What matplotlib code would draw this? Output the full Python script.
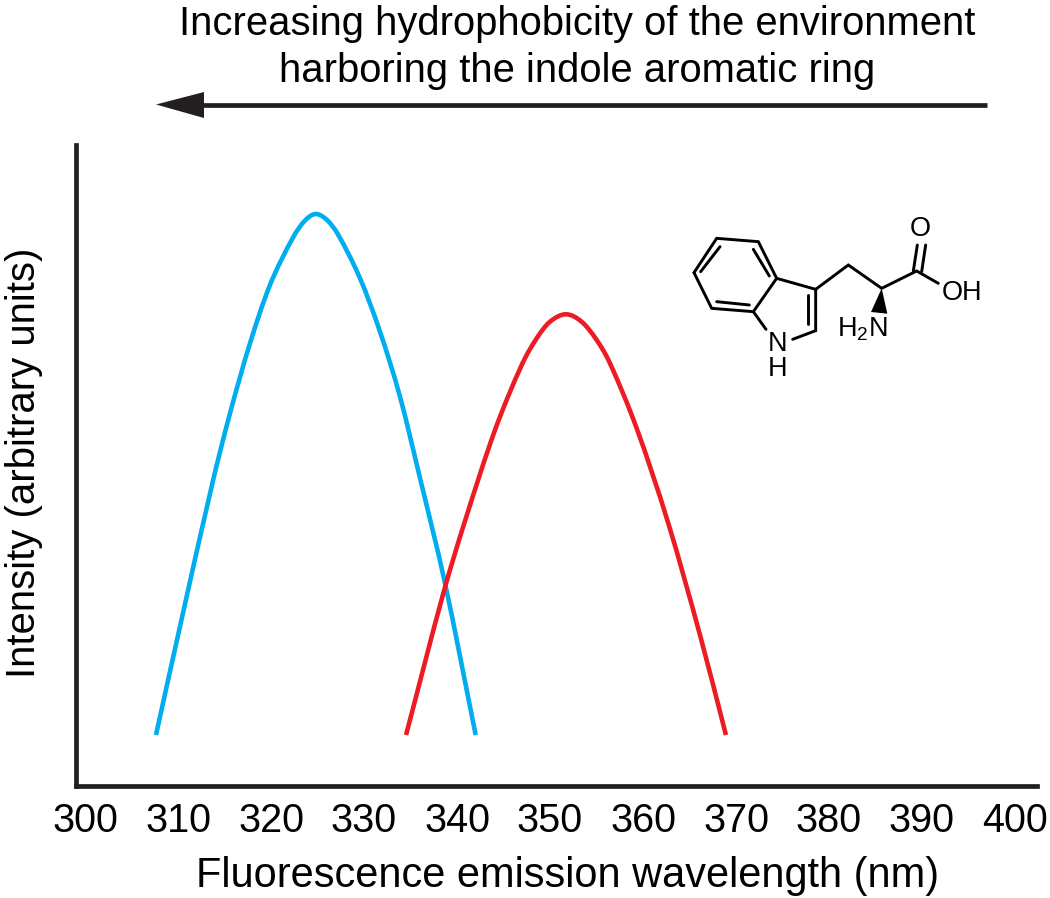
import matplotlib
matplotlib.use("Agg")
import matplotlib.pyplot as plt
from matplotlib.patches import Polygon, PathPatch
from matplotlib.path import Path

plt.rcParams['font.family'] = ['Liberation Sans', 'DejaVu Sans']

# values (intensity is in arbitrary units)
blue_wl = [307.63, 310.29, 313.69, 315.59, 317.74, 319.89, 322.37, 323.66, 324.81, 326.02, 327.24,
           329.57, 331.72, 333.87, 336.02, 338.71, 342.01]
blue_int = [50.5, 162.2, 302, 372.2, 442.2, 500.5, 548, 565, 571.5, 565.5, 550.5,
            507.2, 453.8, 388.8, 307.5, 202.2, 50.5]
red_wl = [334.52, 338.53, 340.86, 344.09, 346.96, 348.57, 350.0, 351.72, 353.4, 355.02, 356.45,
          359.32, 362.72, 366.13, 368.92]
red_int = [50.5, 192.2, 264.5, 355.5, 420.5, 447.2, 463.8, 471.2, 463.8, 445.5, 422.2,
           357.2, 262.2, 150.5, 50.5]
x_ticks = [300, 310, 320, 330, 340, 350, 360, 370, 380, 390, 400]

W, H = 1050, 898
BLACK = '#231f20'


def smooth_curve(ax, xs, ys, color):
    # curve through the read points, drawn as beziers so the line has no corners
    n = len(xs)
    slopes = []
    for i in range(n):
        a = max(i - 1, 0)
        b = min(i + 1, n - 1)
        slopes.append((ys[b] - ys[a]) / (xs[b] - xs[a]))
    verts = [(xs[0], ys[0])]
    codes = [Path.MOVETO]
    for i in range(n - 1):
        dx = xs[i + 1] - xs[i]
        verts.append((xs[i] + dx / 3, ys[i] + slopes[i] * dx / 3))
        verts.append((xs[i + 1] - dx / 3, ys[i + 1] - slopes[i + 1] * dx / 3))
        verts.append((xs[i + 1], ys[i + 1]))
        codes += [Path.CURVE4, Path.CURVE4, Path.CURVE4]
    ax.add_patch(PathPatch(Path(verts, codes), fill=False, edgecolor=color, lw=3.3,
                           capstyle='butt', joinstyle='round'))


fig = plt.figure(figsize=(W / 100, H / 100), dpi=100)
ax = fig.add_axes([76 / W, 1 - 785.5 / H, 961 / W, 640.5 / H])
ax.set_xlim(299.03, 402.37)
ax.set_ylim(0, 640.5)
smooth_curve(ax, blue_wl, blue_int, '#00aeef')
smooth_curve(ax, red_wl, red_int, '#ed1c24')

ax.spines['top'].set_visible(False)
ax.spines['right'].set_visible(False)
ax.spines['left'].set_linewidth(3.4)
ax.spines['bottom'].set_linewidth(3.4)
ax.spines['left'].set_color(BLACK)
ax.spines['bottom'].set_color(BLACK)
ax.set_xticks(x_ticks)
ax.set_yticks([])
ax.tick_params(axis='x', length=0, pad=12, labelsize=28.5, labelcolor='black')
ax.set_xlabel('Fluorescence emission wavelength (nm)', fontsize=29.9, va='baseline')
ax.xaxis.set_label_coords(0.511, -0.1585)
ax.set_ylabel('Intensity (arbitrary units)', fontsize=28.9, va='baseline')
ax.yaxis.set_label_coords(-0.0427, 0.504)

# overlay in pixel coordinates for the arrow, caption and molecule
ov = fig.add_axes([0, 0, 1, 1])
ov.set_xlim(0, W)
ov.set_ylim(H, 0)
ov.axis('off')

ov.text(577, 35, 'Increasing hydrophobicity of the environment', fontsize=28.8, ha='center', va='baseline')
ov.text(577, 82, 'harboring the indole aromatic ring', fontsize=28.8, ha='center', va='baseline')
ov.plot([987, 200], [104.5, 104.5], color=BLACK, lw=3.4, solid_capstyle='butt')
ov.add_patch(Polygon([(156, 104.5), (204, 92), (204, 118)], closed=True, color=BLACK, lw=0))


def mx(zx):
    return 670 + zx / 3


def my(zy):
    return 200 + zy / 3


# tryptophan skeleton, positions from the zoomed crop
ring_bonds = [
    [(72, 218), (140, 115), (265, 125), (320, 235), (250, 335), (125, 325), (72, 218)],
    [(92, 215), (150, 140)],
    [(250, 148), (298, 228)],
    [(140, 305), (238, 315)],
    [(320, 235), (437, 268), (437, 392), (368, 418)],
    [(250, 335), (288, 388)],
    [(415, 285), (415, 372)],
    [(437, 268), (535, 195), (635, 265), (740, 213), (805, 250)],
    [(730, 213), (742, 135)],
    [(755, 215), (767, 135)],
]
for bond in ring_bonds:
    ov.plot([mx(p[0]) for p in bond], [my(p[1]) for p in bond], color='black', lw=2.1,
            solid_capstyle='round', solid_joinstyle='miter')
ov.add_patch(Polygon([(mx(635), my(265)), (mx(603), my(336)), (mx(652), my(341))],
                     closed=True, color='black', lw=0))

atom_size = 19.5
ov.text(mx(752), my(86), 'O', fontsize=atom_size, ha='center', va='center')
ov.text(mx(875), my(278), 'OH', fontsize=atom_size, ha='center', va='center')
ov.text(mx(322), my(470), 'N\nH', fontsize=atom_size, ha='center', va='center', linespacing=0.98)
ov.text(mx(578), my(388), r'H$_{\mathregular{2}}$N', fontsize=atom_size, ha='center', va='center')

fig.savefig('out.png', dpi=100, facecolor='white')
